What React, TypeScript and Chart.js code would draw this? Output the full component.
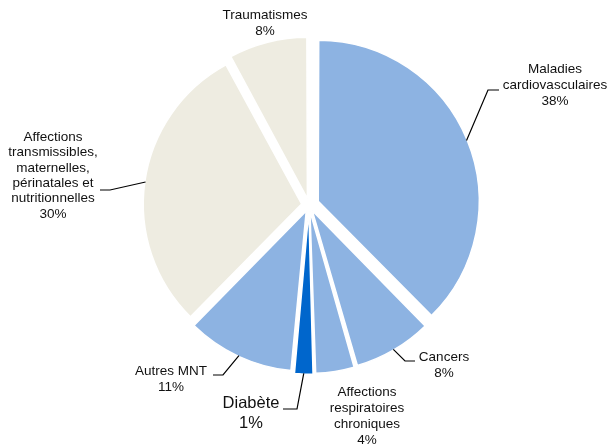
import React, { useEffect, useRef } from "react";
import { Chart, registerables } from "chart.js";

Chart.register(...registerables);

// ---- data ----
const categories = [
  "Maladies cardiovasculaires",
  "Cancers",
  "Affections respiratoires chroniques",
  "Diabète",
  "Autres MNT",
  "Affections transmissibles, maternelles, périnatales et nutritionnelles",
  "Traumatismes",
];
// slice sizes as drawn in the picture
const sliceValues = [38, 8, 4, 2, 11, 30, 8];
// percentage labels as printed
const percentLabels = ["38%", "8%", "4%", "1%", "11%", "30%", "8%"];
const labelLines = [
  ["Maladies", "cardiovasculaires"],
  ["Cancers"],
  ["Affections", "respiratoires", "chroniques"],
  ["Diabète"],
  ["Autres MNT"],
  ["Affections", "transmissibles,", "maternelles,", "périnatales et", "nutritionnelles"],
  ["Traumatismes"],
];

// ---- styles ----
const sliceColors = ["#8DB3E2", "#8DB3E2", "#8DB3E2", "#0066CC", "#8DB3E2", "#EEECE1", "#EEECE1"];
const sliceOffsets = [40, 26, 24, 24, 26, 30, 26];
const FONT = '"Liberation Sans", Arial, sans-serif';

// label layout relative to pie centre: text (first line centre), line height, font size, leader elbow & end
type LabelLayout = { tx: number; ty: number; lh: number; size: number; leader?: [number, number, number, number] };
const labelLayout: LabelLayout[] = [
  { tx: 246, ty: -136, lh: 16, size: 13.5, leader: [179, -115, 190, -115] },
  { tx: 135, ty: 152, lh: 16, size: 13.5, leader: [96, 156, 106, 156] },
  { tx: 58, ty: 187, lh: 16, size: 13.5 },
  { tx: -58, ty: 198, lh: 20, size: 16.5, leader: [-12, 204, -26, 204] },
  { tx: -138, ty: 166, lh: 16.5, size: 13.5, leader: [-86, 170, -96, 170] },
  { tx: -256, ty: -68, lh: 15.4, size: 13.5, leader: [-199, -15, -209, -15] },
  { tx: -44, ty: -190, lh: 16.5, size: 13.5 },
];

const labelPlugin = {
  id: "pieLabels",
  afterDraw(chart: any) {
    const ctx = chart.ctx as CanvasRenderingContext2D;
    const meta = chart.getDatasetMeta(0);
    ctx.save();
    meta.data.forEach((el: any, i: number) => {
      const lay = labelLayout[i];
      const cx = el.x;
      const cy = el.y;
      const mid = (el.startAngle + el.endAngle) / 2;
      const off = (el.options.offset || 0) / 4;
      const circ = el.endAngle - el.startAngle;
      const fix = 1 - Math.sin(Math.min(Math.PI, circ));
      const r = el.outerRadius + off * fix - (el.options.borderWidth || 0) / 2;
      if (lay.leader) {
        const sx = cx + Math.cos(mid) * (off + r);
        const sy = cy + Math.sin(mid) * (off + r);
        ctx.beginPath();
        ctx.strokeStyle = "#000";
        ctx.lineWidth = 1.2;
        ctx.moveTo(sx, sy);
        ctx.lineTo(cx + lay.leader[0], cy + lay.leader[1]);
        ctx.lineTo(cx + lay.leader[2], cy + lay.leader[3]);
        ctx.stroke();
      }
      const lines = [...labelLines[i], percentLabels[i]];
      ctx.fillStyle = "#111";
      ctx.font = `${lay.size}px ${FONT}`;
      ctx.textAlign = "center";
      ctx.textBaseline = "middle";
      lines.forEach((t, k) => {
        ctx.fillText(t, cx + lay.tx, cy + lay.ty + k * lay.lh);
      });
    });
    ctx.restore();
  },
};

export default function App() {
  const ref = useRef<HTMLCanvasElement | null>(null);
  useEffect(() => {
    document.body.style.margin = "0";
    const canvas = ref.current;
    if (!canvas) return;
    const chart = new Chart(canvas, {
      type: "pie",
      data: {
        labels: categories,
        datasets: [
          {
            data: sliceValues,
            backgroundColor: sliceColors,
            borderColor: "#FFFFFF",
            borderWidth: 1.5,
            offset: sliceOffsets,
            radius: 158,
          } as any,
        ],
      },
      options: {
        animation: false,
        responsive: false,
        events: [],
        layout: { padding: { left: 6, right: 0, top: 0, bottom: 36 } },
        plugins: {
          legend: { display: false },
          tooltip: { enabled: false },
        },
      },
      plugins: [labelPlugin],
    });
    return () => chart.destroy();
  }, []);
  return (
    <div style={{ width: 612, height: 446, background: "#fff" }}>
      <canvas ref={ref} width={612} height={446} style={{ display: "block" }} />
    </div>
  );
}
